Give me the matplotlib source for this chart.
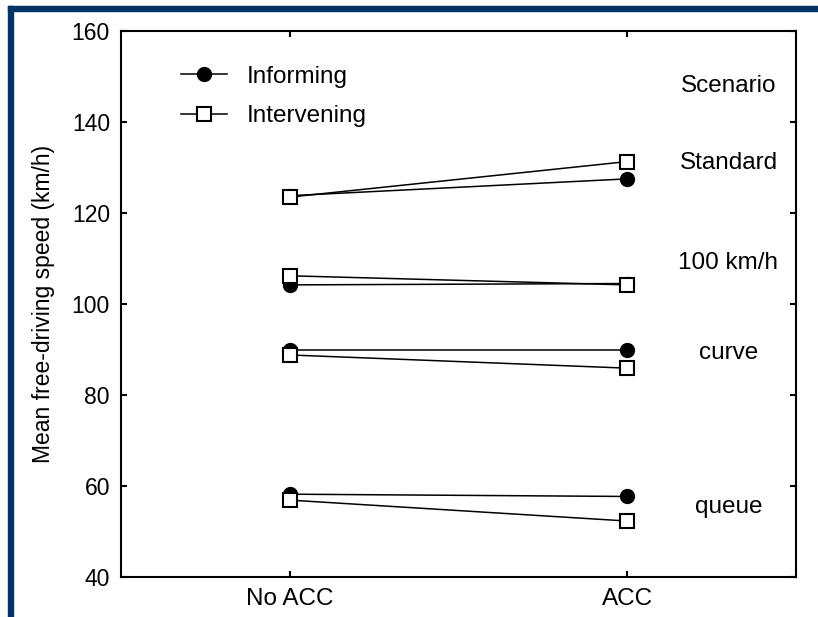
import matplotlib
matplotlib.use("Agg")
import matplotlib.pyplot as plt
from matplotlib.patches import Rectangle

plt.rcParams['font.family'] = ['Liberation Sans', 'DejaVu Sans']

# data
conditions = ['No ACC', 'ACC']
scenarios = ['Standard', '100 km/h', 'curve', 'queue']
informing = [[123.8, 127.5], [104.2, 104.5], [89.9, 89.9], [58.2, 57.7]]
intervening = [[123.5, 131.3], [106.2, 104.2], [88.8, 85.9], [56.9, 52.3]]
label_y = [129.7, 107.7, 87.9, 54.1]

x = [1, 2]

fig = plt.figure(figsize=(8.18, 6.17), dpi=100)
ax = fig.add_axes([121 / 818, 1 - 577 / 617, 675 / 818, 546 / 617])

for i in range(len(scenarios)):
    ax.plot(x, informing[i], color='black', lw=1.1, marker='o', ms=10,
            mfc='black', mec='black', label='Informing' if i == 0 else None)
for i in range(len(scenarios)):
    ax.plot(x, intervening[i], color='black', lw=1.1, marker='s', ms=10.5,
            mfc='white', mec='black', mew=1.5,
            label='Intervening' if i == 0 else None)

ax.set_xlim(0.5, 2.5)
ax.set_ylim(40, 160)
ax.set_xticks(x)
ax.set_xticklabels(conditions)
ax.set_yticks(range(40, 161, 20))
ax.tick_params(direction='in', length=4.5, width=1.5, labelsize=16.5,
               top=True, right=True, pad=8)
ax.tick_params(axis='x', labelsize=17.5)
for s in ax.spines.values():
    s.set_linewidth(1.5)
ax.set_ylabel('Mean free-driving speed (km/h)', fontsize=16.5, labelpad=12)

ax.text(2.3, 146.6, 'Scenario', fontsize=17.5, ha='center', va='baseline')
for name, yy in zip(scenarios, label_y):
    ax.text(2.3, yy, name, fontsize=17.5, ha='center', va='baseline')

ax.legend(loc='upper left', bbox_to_anchor=(0.089, 0.936), frameon=False,
          fontsize=17.5, handlelength=1.9, handletextpad=0.8,
          labelspacing=0.72, borderpad=0, borderaxespad=0)

# dark blue frame around the slide picture
blue = '#003366'
fig.patches.append(Rectangle((8 / 818, 0), 5 / 818, 611 / 617, color=blue,
                             transform=fig.transFigure, figure=fig))
fig.patches.append(Rectangle((8 / 818, 606 / 617), 810 / 818, 5 / 617,
                             color=blue, transform=fig.transFigure, figure=fig))

fig.savefig('out.png', dpi=100)
